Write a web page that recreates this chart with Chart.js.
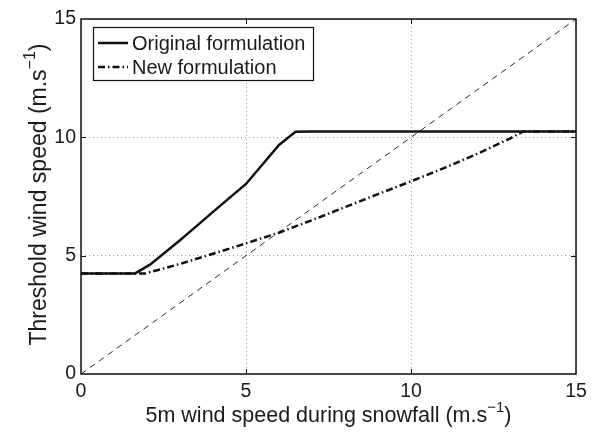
<!DOCTYPE html>
<html>
<head>
<meta charset="utf-8">
<script src="https://cdn.jsdelivr.net/npm/chart.js@4.4.1/dist/chart.umd.min.js"></script>
<style>
  html, body { margin: 0; padding: 0; background: #fff; }
  #wrap { width: 594px; height: 434px; position: relative; }
</style>
</head>
<body>
<div id="wrap"><canvas id="c" width="594" height="434"></canvas></div>
<script>
// ---- data ----
const seriesNames = ["Original formulation", "New formulation"];
const origX = [0, 1.64, 2.09, 3, 3.5, 4, 5, 6, 6.5, 7, 15];
const origY = [4.25, 4.25, 4.62, 5.65, 6.25, 6.85, 8.03, 9.68, 10.24, 10.25, 10.25];
const newX  = [0, 1.69, 1.95, 3, 4, 5, 6, 7, 8, 9, 10, 11, 12, 13, 13.4, 15];
const newY  = [4.25, 4.25, 4.25, 4.65, 5.08, 5.52, 5.97, 6.5, 7.05, 7.6, 8.14, 8.7, 9.3, 9.95, 10.25, 10.25];
const refX  = [0, 15];
const refY  = [0, 15];
const xTicks = [0, 5, 10, 15];
const yTicks = [0, 5, 10, 15];
const xTitle = ["5m wind speed during snowfall (m.s", "\u22121", ")"];
const yTitle = ["Threshold wind speed (m.s", "\u22121", ")"];

const FONT = '"Liberation Sans", Arial, Helvetica, sans-serif';
const INK = '#111';

function pts(xs, ys) { return xs.map((x, i) => ({ x: x, y: ys[i] })); }

function drawSupText(ctx, parts, size, supSize, raise) {
  ctx.font = size + 'px ' + FONT;
  const w0 = ctx.measureText(parts[0]).width;
  const w2 = ctx.measureText(parts[2]).width;
  ctx.font = supSize + 'px ' + FONT;
  const w1 = ctx.measureText(parts[1]).width;
  const total = w0 + w1 + w2;
  let x = -total / 2;
  ctx.textAlign = 'left';
  ctx.textBaseline = 'alphabetic';
  ctx.font = size + 'px ' + FONT;
  ctx.fillText(parts[0], x, 0); x += w0;
  ctx.font = supSize + 'px ' + FONT;
  ctx.fillText(parts[1], x, -raise); x += w1;
  ctx.font = size + 'px ' + FONT;
  ctx.fillText(parts[2], x, 0);
}

const decor = {
  id: 'decor',
  afterDraw(chart) {
    const ctx = chart.ctx;
    const a = chart.chartArea;
    const xs = chart.scales.x, ys = chart.scales.y;
    ctx.save();
    // frame
    ctx.strokeStyle = INK;
    ctx.lineWidth = 1.5;
    ctx.setLineDash([]);
    ctx.strokeRect(a.left, a.top, a.right - a.left, a.bottom - a.top);
    // inward ticks
    ctx.lineWidth = 1;
    const tl = 5;
    xTicks.slice(1, -1).forEach(v => {
      const px = Math.round(xs.getPixelForValue(v)) + 0.5;
      ctx.beginPath();
      ctx.moveTo(px, a.bottom); ctx.lineTo(px, a.bottom - tl);
      ctx.moveTo(px, a.top); ctx.lineTo(px, a.top + tl);
      ctx.stroke();
    });
    yTicks.slice(1, -1).forEach(v => {
      const py = Math.round(ys.getPixelForValue(v)) + 0.5;
      ctx.beginPath();
      ctx.moveTo(a.left, py); ctx.lineTo(a.left + tl, py);
      ctx.moveTo(a.right, py); ctx.lineTo(a.right - tl, py);
      ctx.stroke();
    });
    // legend
    const lx = a.left + 12, ly = a.top + 8, lw = 220, lh = 53;
    ctx.fillStyle = '#fff';
    ctx.fillRect(lx, ly, lw, lh);
    ctx.strokeStyle = INK;
    ctx.lineWidth = 1.2;
    ctx.strokeRect(lx + 0.5, ly + 0.5, lw, lh);
    const rows = [ly + 16, ly + 40];
    const ds = chart.data.datasets;
    [0, 1].forEach(i => {
      ctx.beginPath();
      ctx.strokeStyle = ds[i].borderColor;
      ctx.lineWidth = ds[i].borderWidth;
      ctx.setLineDash(ds[i].borderDash || []);
      ctx.moveTo(lx + 5, rows[i]);
      ctx.lineTo(lx + 35, rows[i]);
      ctx.stroke();
      ctx.setLineDash([]);
      ctx.fillStyle = '#1a1a1a';
      ctx.font = '20px ' + FONT;
      ctx.textAlign = 'left';
      ctx.textBaseline = 'middle';
      ctx.fillText(seriesNames[i], lx + 39, rows[i] + 1);
    });
    // axis titles
    ctx.fillStyle = '#1a1a1a';
    ctx.save();
    ctx.translate((a.left + a.right) / 2, 422);
    drawSupText(ctx, xTitle, 21.5, 15, 10);
    ctx.restore();
    ctx.save();
    ctx.translate(46, (a.top + a.bottom) / 2 - 2);
    ctx.rotate(-Math.PI / 2);
    drawSupText(ctx, yTitle, 23, 16, 11);
    ctx.restore();
    ctx.restore();
  }
};

new Chart(document.getElementById('c'), {
  type: 'line',
  data: {
    datasets: [
      { label: seriesNames[0], data: pts(origX, origY), borderColor: INK, borderWidth: 2.5,
        pointRadius: 0, tension: 0, fill: false },
      { label: seriesNames[1], data: pts(newX, newY), borderColor: INK, borderWidth: 2.5,
        borderDash: [7, 3, 1.5, 3], pointRadius: 0, tension: 0, fill: false },
      { label: 'y = x', data: pts(refX, refY), borderColor: INK, borderWidth: 0.9,
        borderDash: [6, 5], pointRadius: 0, tension: 0, fill: false }
    ]
  },
  options: {
    responsive: false,
    animation: false,
    events: [],
    layout: { padding: { left: 0, right: 18, top: 19, bottom: 0 } },
    plugins: { legend: { display: false }, tooltip: { enabled: false } },
    scales: {
      x: {
        type: 'linear', min: 0, max: 15,
        afterBuildTicks: s => { s.ticks = xTicks.map(v => ({ value: v })); },
        afterFit: s => { s.height = 60; },
        ticks: { font: { family: FONT, size: 19.5 }, color: '#1a1a1a', padding: 6, maxRotation: 0 },
        grid: { color: '#9a9a9a', lineWidth: 1, drawTicks: false },
        border: { display: false, dash: [1, 3] }
      },
      y: {
        type: 'linear', min: 0, max: 15,
        afterBuildTicks: s => { s.ticks = yTicks.map(v => ({ value: v })); },
        afterFit: s => { s.width = 81; },
        ticks: { font: { family: FONT, size: 19.5 }, color: '#1a1a1a', padding: 5 },
        grid: { color: '#9a9a9a', lineWidth: 1, drawTicks: false },
        border: { display: false, dash: [1, 3] }
      }
    }
  },
  plugins: [decor]
});
</script>
</body>
</html>
